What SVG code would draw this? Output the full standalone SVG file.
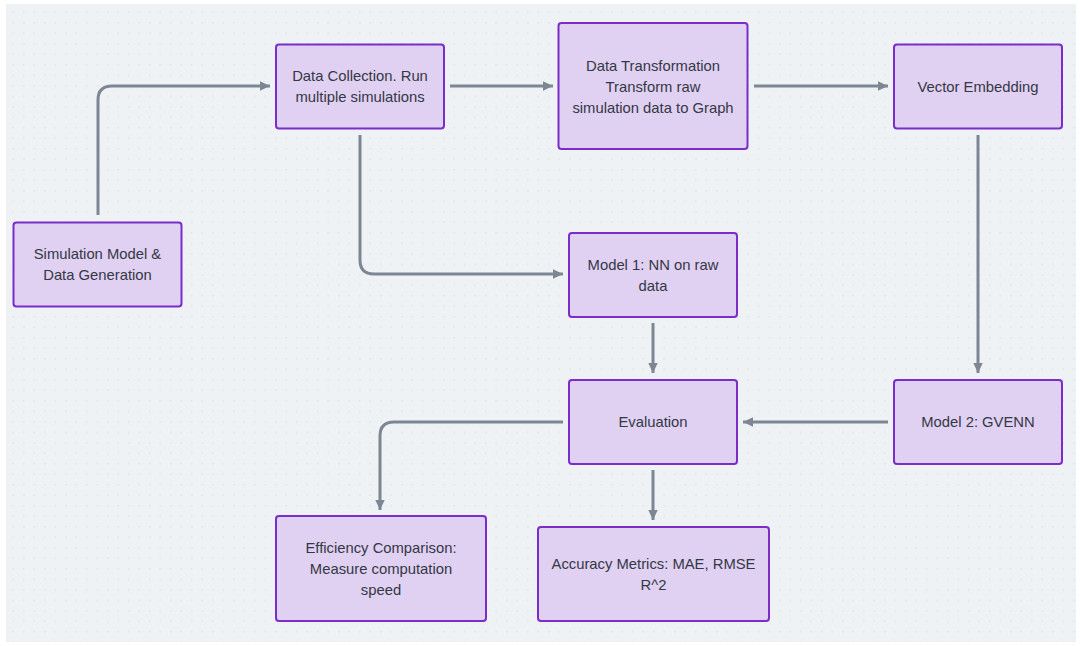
<svg xmlns="http://www.w3.org/2000/svg" width="1080" height="646" viewBox="0 0 1080 646">
<defs>
<pattern id="dots" x="0" y="0" width="10.5" height="10.5" patternUnits="userSpaceOnUse">
<rect x="2.3" y="1.3" width="1" height="1" fill="#c9cdd3"/>
</pattern>
<marker id="arr" markerUnits="userSpaceOnUse" markerWidth="12" markerHeight="12" viewBox="0 0 12 12" refX="11" refY="6" orient="auto">
<path d="M1,1.3 L11,6 L1,10.7 Z" fill="#7d8794"/>
</marker>
<style>
.node rect{fill:#e0d0f1;stroke:#7a2dc9;stroke-width:2}
.node text{font-family:"Liberation Sans",Arial,sans-serif;font-size:14.8px;fill:#343845;text-anchor:middle;dominant-baseline:central}
.edges path{fill:none;stroke:#7d8794;stroke-width:3;marker-end:url(#arr)}
</style>
</defs>
<rect x="0" y="0" width="1080" height="646" fill="#ffffff"/>
<rect x="6" y="4" width="1070" height="638" fill="#eff2f5"/>
<rect x="6" y="4" width="1070" height="638" fill="url(#dots)"/>
<g class="edges">
<path d="M98,215 V100 Q98,86 112,86 H270"/>
<path d="M450,86 H553"/>
<path d="M754,86 H888"/>
<path d="M360,135 V260 Q360,274 374,274 H563"/>
<path d="M978,135 V373"/>
<path d="M653,323 V373"/>
<path d="M888,422 H743"/>
<path d="M563,422 H394 Q380,422 380,436 V510"/>
<path d="M653,470 V520"/>
</g>
<g id="sim" class="node"><rect x="13.5" y="222.5" width="168" height="84" rx="3"/><text x="97.5" y="254">Simulation Model &amp;</text><text x="97.5" y="275">Data Generation</text></g>
<g id="collect" class="node"><rect x="276" y="44.5" width="168" height="84" rx="3"/><text x="360" y="76">Data Collection. Run</text><text x="360" y="97">multiple simulations</text></g>
<g id="transform" class="node"><rect x="558.5" y="23" width="189" height="126" rx="3"/><text x="653" y="65.5">Data Transformation</text><text x="653" y="86.5">Transform raw</text><text x="653" y="107.5">simulation data to Graph</text></g>
<g id="embed" class="node"><rect x="894" y="44.5" width="168" height="84" rx="3"/><text x="978" y="86.5">Vector Embedding</text></g>
<g id="model1" class="node"><rect x="569" y="233" width="168" height="84" rx="3"/><text x="653" y="265">Model 1: NN on raw</text><text x="653" y="286">data</text></g>
<g id="eval" class="node"><rect x="569" y="380" width="168" height="84" rx="3"/><text x="653" y="422">Evaluation</text></g>
<g id="model2" class="node"><rect x="894" y="380" width="168" height="84" rx="3"/><text x="978" y="422">Model 2: GVENN</text></g>
<g id="efficiency" class="node"><rect x="276" y="516" width="210" height="105" rx="3"/><text x="381" y="548">Efficiency Comparison:</text><text x="381" y="569">Measure computation</text><text x="381" y="590">speed</text></g>
<g id="accuracy" class="node"><rect x="538" y="527" width="231" height="94" rx="3"/><text x="653.5" y="564">Accuracy Metrics: MAE, RMSE</text><text x="653.5" y="585">R^2</text></g>
</svg>
